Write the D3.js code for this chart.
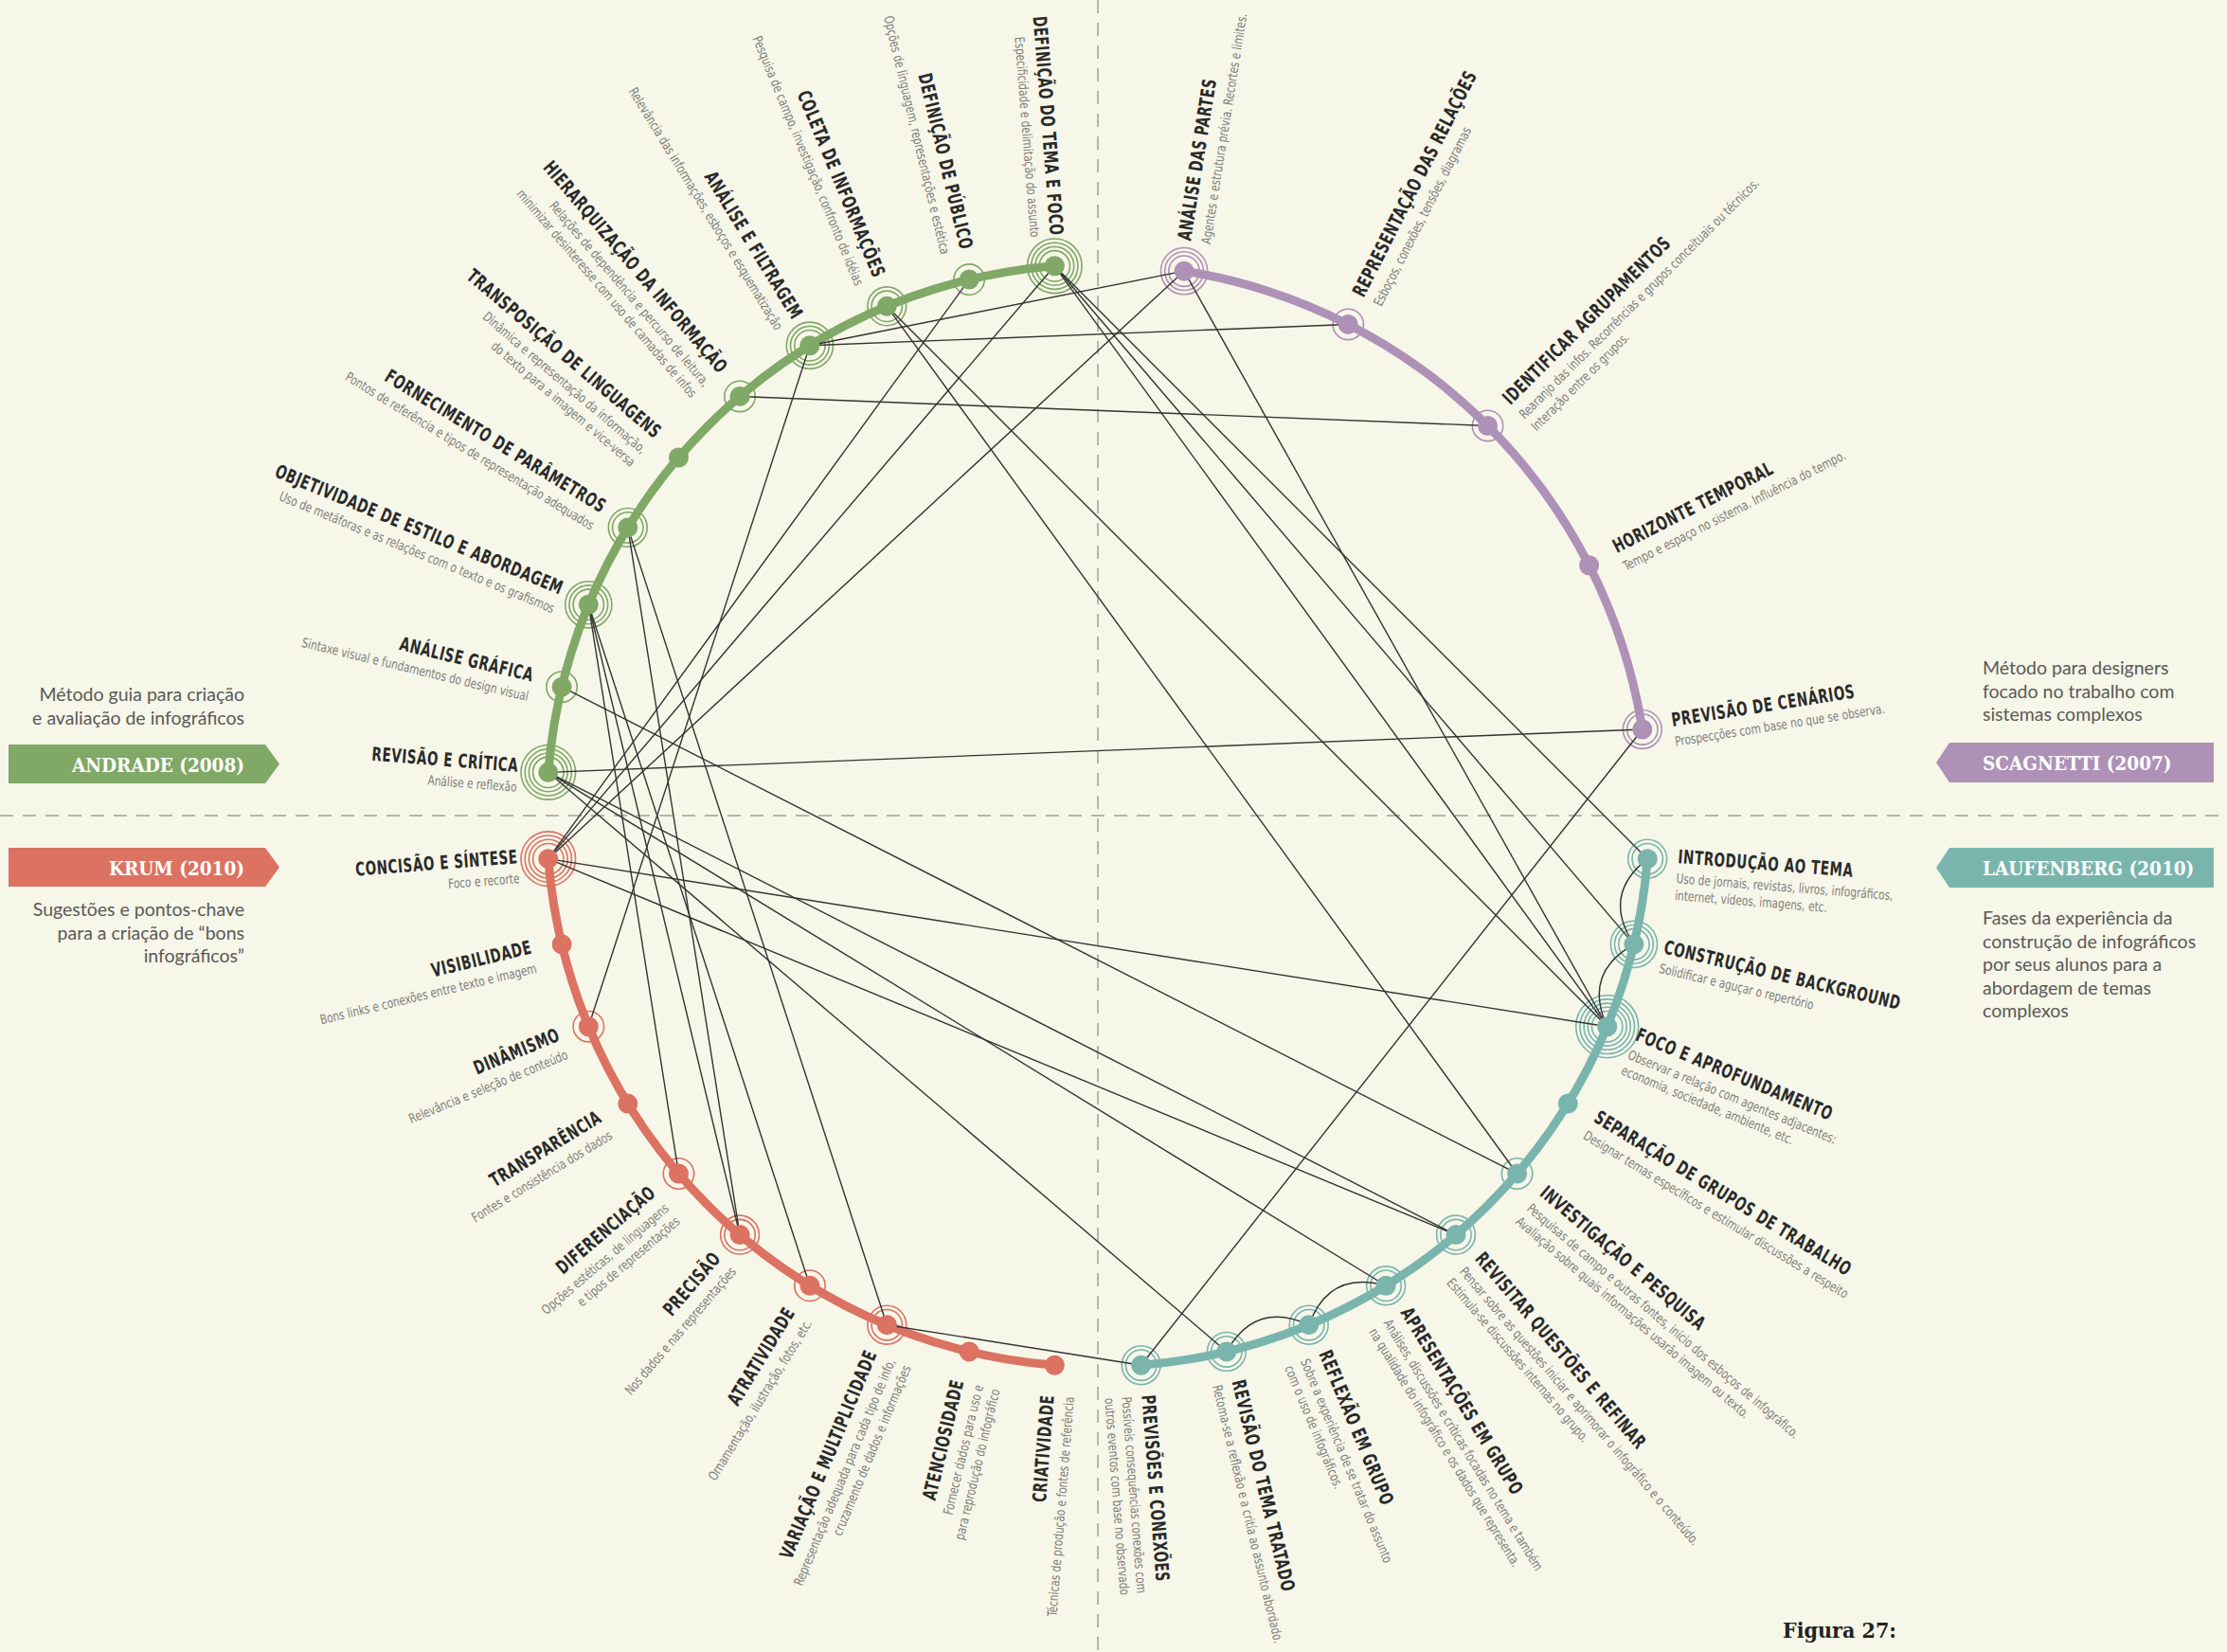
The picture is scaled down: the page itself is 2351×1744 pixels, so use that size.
<!DOCTYPE html>
<html>
<head>
<meta charset="utf-8">
<script src="https://cdn.jsdelivr.net/npm/d3@7"></script>
<style>
  body { margin: 0; background: #f6f6e9; }
  svg { display: block; }
</style>
</head>
<body>
<svg id="chart" width="2351" height="1744"></svg>
<script>
// ---- data ----
var andradeSteps = ["DEFINIÇÃO DO TEMA E FOCO", "DEFINIÇÃO DE PÚBLICO", "COLETA DE INFORMAÇÕES", "ANÁLISE E FILTRAGEM",
  "HIERARQUIZAÇÃO DA INFORMAÇÃO", "TRANSPOSIÇÃO DE LINGUAGENS", "FORNECIMENTO DE PARÂMETROS",
  "OBJETIVIDADE DE ESTILO E ABORDAGEM", "ANÁLISE GRÁFICA", "REVISÃO E CRÍTICA"];
var andradeNotes = [
  ["Especificidade e delimitação do assunto"],
  ["Opções de linguagem, representações e estética"],
  ["Pesquisa de campo, investigação, confronto de idéias"],
  ["Relevância das informações, esboços e esquematização"],
  ["Relações de dependência e percurso de leitura,", "minimizar desinteresse com uso de camadas de infos"],
  ["Dinâmica e representação da informação,", "do texto para a imagem e vice-versa"],
  ["Pontos de referência e tipos de representação adequados"],
  ["Uso de metáforas e as relações com o texto e os grafismos"],
  ["Sintaxe visual e fundamentos do design visual"],
  ["Análise e reflexão"]];
var andradeRings = [4, 1, 2, 3, 1, 0, 2, 3, 1, 4];

var krumSteps = ["CONCISÃO E SÍNTESE", "VISIBILIDADE", "DINÂMISMO", "TRANSPARÊNCIA", "DIFERENCIAÇÃO",
  "PRECISÃO", "ATRATIVIDADE", "VARIAÇÃO E MULTIPLICIDADE", "ATENCIOSIDADE", "CRIATIVIDADE"];
var krumNotes = [
  ["Foco e recorte"],
  ["Bons links e conexões entre texto e imagem"],
  ["Relevância e seleção de conteúdo"],
  ["Fontes e consistência dos dados"],
  ["Opções estéticas, de linguagens", "e tipos de representações"],
  ["Nos dados e nas representações"],
  ["Ornamentação, ilustração, fotos, etc."],
  ["Representação adequada para cada tipo de info,", "cruzamento de dados e informações"],
  ["Fornecer dados para uso e", "para reprodução do infográfico"],
  ["Técnicas de produção e fontes de referência"]];
var krumRings = [4, 0, 1, 0, 1, 2, 1, 2, 0, 0];

var scagnettiSteps = ["ANÁLISE DAS PARTES", "REPRESENTAÇÃO DAS RELAÇÕES", "IDENTIFICAR AGRUPAMENTOS",
  "HORIZONTE TEMPORAL", "PREVISÃO DE CENÁRIOS"];
var scagnettiNotes = [
  ["Agentes e estrutura prévia. Recortes e limites."],
  ["Esboços, conexões, tensões, diagramas"],
  ["Rearanjo das infos. Recorrências e grupos conceituais ou técnicos.", "Interação entre os grupos."],
  ["Tempo e espaço no sistema. Influência do tempo."],
  ["Prospecções com base no que se observa."]];
var scagnettiRings = [3, 1, 1, 0, 2];

var laufenbergSteps = ["INTRODUÇÃO AO TEMA", "CONSTRUÇÃO DE BACKGROUND", "FOCO E APROFUNDAMENTO",
  "SEPARAÇÃO DE GRUPOS DE TRABALHO", "INVESTIGAÇÃO E PESQUISA", "REVISITAR QUESTÕES E REFINAR",
  "APRESENTAÇÕES EM GRUPO", "REFLEXÃO EM GRUPO", "REVISÃO DO TEMA TRATADO", "PREVISÕES E CONEXÕES"];
var laufenbergNotes = [
  ["Uso de jornais, revistas, livros, infográficos,", "internet, vídeos, imagens, etc."],
  ["Solidificar e aguçar o repertório"],
  ["Observar a relação com agentes adjacentes:", "economia, sociedade, ambiente, etc."],
  ["Designar temas específicos e estimular discussões a respeito"],
  ["Pesquisas de campo e outras fontes, início dos esboços de infográfico.", "Avaliação sobre quais informações usarão imagem ou texto."],
  ["Pensar sobre as questões iniciar e aprimorar o infográfico e o conteúdo.", "Estímula-se discussões internas no grupo."],
  ["Análises, discussões e críticas focadas no tema e também", "na qualidade do infográfico e os dados que representa."],
  ["Sobre a experiência de se tratar do assunto", "com o uso de infográficos."],
  ["Retoma-se a reflexão e a critía ao assunto abordado."],
  ["Possíveis consequências conexões com", "outros eventos com base no observado"]];
var laufenbergRings = [2, 3, 5, 0, 1, 2, 2, 2, 2, 2];

// A = Andrade, K = Krum, S = Scagnetti, L = Laufenberg
var links = [
  ["A1", "K1"], ["A2", "K1"], ["S1", "K1"],
  ["A1", "L1"], ["A1", "L2"], ["A1", "L3"], ["S1", "L3"],
  ["A3", "L3"], ["A3", "L5"], ["A9", "L5"],
  ["A4", "S1"], ["A4", "S2"], ["A4", "K3"], ["A5", "S3"],
  ["A10", "S5"], ["S5", "L10"], ["K8", "L10"],
  ["K1", "L3"], ["K1", "L6"], ["A10", "L6"], ["A10", "L7"], ["A10", "L9"],
  ["A7", "K8"], ["A7", "K6"], ["A8", "K5"], ["A8", "K6"], ["A8", "K7"]];
var curves = [["L1", "L2"], ["L2", "L3"], ["L7", "L8"], ["L8", "L9"]];

var methodNames = ["ANDRADE (2008)", "KRUM (2010)", "SCAGNETTI (2007)", "LAUFENBERG (2010)"];
var methodNotes = [
  ["Método guia para criação", "e avaliação de infográficos"],
  ["Sugestões e pontos-chave", "para a criação de “bons", "infográficos”"],
  ["Método para designers", "focado no trabalho com", "sistemas complexos"],
  ["Fases da experiência da", "construção de infográficos", "por seus alunos para a", "abordagem de temas", "complexos"]];

// ---- layout ----
var W = 2351, H = 1744, cx = 1159, cy = 861, R = 582;
var titleFont = "'Liberation Sans Narrow', 'DejaVu Sans Condensed', sans-serif";
var slabFont = "'DejaVu Serif Condensed', 'DejaVu Serif', serif";

var methods = [
  { key: "A", steps: andradeSteps, notes: andradeNotes, rings: andradeRings, color: "#80a866",
    angle: d3.scaleLinear().domain([0, 9]).range([-4.5, -85.5]), left: true },
  { key: "K", steps: krumSteps, notes: krumNotes, rings: krumRings, color: "#dc7262",
    angle: d3.scaleLinear().domain([0, 9]).range([-94.5, -175.5]), left: true },
  { key: "S", steps: scagnettiSteps, notes: scagnettiNotes, rings: scagnettiRings, color: "#ae91b7",
    angle: d3.scaleLinear().domain([0, 4]).range([9, 81]), left: false },
  { key: "L", steps: laufenbergSteps, notes: laufenbergNotes, rings: laufenbergRings, color: "#79b5ad",
    angle: d3.scaleLinear().domain([0, 9]).range([94.5, 175.5]), left: false }
];

var rad = d3.scaleLinear().domain([0, 360]).range([0, 2 * Math.PI]);

var nodes = [];
var byId = {};
methods.forEach(function(m) {
  m.steps.forEach(function(s, i) {
    var deg = m.angle(i);
    var p = d3.pointRadial(rad(deg), R);
    var n = { id: m.key + (i + 1), title: s, notes: m.notes[i], rings: m.rings[i],
      color: m.color, deg: deg, x: p[0], y: p[1], left: m.left };
    nodes.push(n);
    byId[n.id] = n;
  });
});

var svg = d3.select("#chart");
svg.append("rect").attr("width", W).attr("height", H).attr("fill", "#f6f6e9");

// dashed guides
svg.append("line").attr("x1", cx).attr("x2", cx).attr("y1", 0).attr("y2", H)
  .attr("stroke", "#b5b5ad").attr("stroke-width", 2).attr("stroke-dasharray", "14,10");
svg.append("line").attr("x1", 0).attr("x2", W).attr("y1", cy).attr("y2", cy)
  .attr("stroke", "#b5b5ad").attr("stroke-width", 2).attr("stroke-dasharray", "14,10");

var g = svg.append("g").attr("transform", "translate(" + cx + "," + cy + ")");

// coloured arcs
var arc = d3.arc().innerRadius(R - 4.5).outerRadius(R + 4.5);
methods.forEach(function(m) {
  var n = m.steps.length - 1;
  g.append("path")
    .attr("d", arc({ startAngle: rad(m.angle(0)), endAngle: rad(m.angle(n)) }))
    .attr("fill", m.color);
});

// rings
var ringGap = 4.2, dotR = 10.5;
nodes.forEach(function(n) {
  g.selectAll(null).data(d3.range(1, n.rings + 1)).enter().append("circle")
    .attr("cx", n.x).attr("cy", n.y)
    .attr("r", function(k) { return dotR + 1.5 + ringGap * k; })
    .attr("fill", "none").attr("stroke", n.color).attr("stroke-width", 1.6);
});

// straight links
var line = d3.line();
g.selectAll(".link").data(links).enter().append("path")
  .attr("class", "link")
  .attr("d", function(d) { var a = byId[d[0]], b = byId[d[1]]; return line([[a.x, a.y], [b.x, b.y]]); })
  .attr("fill", "none").attr("stroke", "#333").attr("stroke-width", 1.4);

// curved links between neighbouring steps
g.selectAll(".curve").data(curves).enter().append("path")
  .attr("class", "curve")
  .attr("d", function(d) {
    var a = byId[d[0]], b = byId[d[1]];
    var c = d3.pointRadial(rad((a.deg + b.deg) / 2), R - 44);
    var p = d3.path();
    p.moveTo(a.x, a.y);
    p.quadraticCurveTo(c[0], c[1], b.x, b.y);
    return p.toString();
  })
  .attr("fill", "none").attr("stroke", "#333").attr("stroke-width", 1.4);

// dots
g.selectAll(".dot").data(nodes).enter().append("circle")
  .attr("class", "dot")
  .attr("cx", function(d) { return d.x; }).attr("cy", function(d) { return d.y; })
  .attr("r", dotR).attr("fill", function(d) { return d.color; });

// radial labels
var lab = g.selectAll(".lab").data(nodes).enter().append("g")
  .attr("class", "lab")
  .attr("transform", function(d) {
    return "rotate(" + (d.deg - 90) + ") translate(" + (R + 32) + ",0)" + (d.left ? " rotate(180)" : "");
  });

// condensed look: squeeze the fallback font along the reading direction
lab.append("text")
  .attr("y", 2)
  .attr("transform", "scale(0.75,1)")
  .attr("text-anchor", function(d) { return d.left ? "end" : "start"; })
  .style("font-family", titleFont).style("font-weight", "bold")
  .style("font-size", "20px").style("letter-spacing", "0.8px")
  .attr("fill", "#2a2a2a")
  .text(function(d) { return d.title; });

lab.each(function(d) {
  d3.select(this).selectAll(".note").data(d.notes).enter().append("text")
    .attr("class", "note")
    .attr("y", function(t, i) { return 23 + i * 18; })
    .attr("transform", "scale(0.84,1)")
    .attr("text-anchor", d.left ? "end" : "start")
    .style("font-family", titleFont).style("font-size", "14px")
    .attr("fill", "#80807a")
    .text(function(t) { return t; });
});

// side pennants
var penL = [[9, 0], [280, 0], [295, 20.5], [280, 41], [9, 41]];
var penR = [[2337, 0], [2058, 0], [2044, 21], [2058, 42], [2337, 42]];
var pennants = [
  { name: methodNames[0], color: methods[0].color, y: 786, pts: penL, tx: 258, anchor: "end" },
  { name: methodNames[1], color: methods[1].color, y: 895, pts: penL, tx: 258, anchor: "end" },
  { name: methodNames[2], color: methods[2].color, y: 784, pts: penR, tx: 2093, anchor: "start" },
  { name: methodNames[3], color: methods[3].color, y: 895, pts: penR, tx: 2093, anchor: "start" }
];
pennants.forEach(function(p) {
  var sg = svg.append("g").attr("transform", "translate(0," + p.y + ")");
  sg.append("polygon").attr("points", p.pts.map(function(q) { return q.join(","); }).join(" "))
    .attr("fill", p.color);
  sg.append("text").attr("x", p.tx).attr("y", 29).attr("text-anchor", p.anchor)
    .style("font-family", slabFont).style("font-weight", "bold").style("font-size", "20.5px")
    .attr("fill", "#fff").text(p.name);
});

var notePos = [
  { x: 258, y: 740, anchor: "end" },
  { x: 258, y: 967, anchor: "end" },
  { x: 2093, y: 712, anchor: "start" },
  { x: 2093, y: 976, anchor: "start" }
];
methodNotes.forEach(function(lines, i) {
  svg.append("g").selectAll("text").data(lines).enter().append("text")
    .attr("x", notePos[i].x)
    .attr("y", function(t, j) { return notePos[i].y + j * 24.5; })
    .attr("text-anchor", notePos[i].anchor)
    .style("font-family", "Lato, 'Noto Sans', sans-serif").style("font-size", "19.5px")
    .attr("fill", "#5a5a56")
    .text(function(t) { return t; });
});

svg.append("text").attr("x", 2002).attr("y", 1729).attr("text-anchor", "end")
  .style("font-family", slabFont).style("font-weight", "bold").style("font-size", "23px")
  .attr("fill", "#222").text("Figura 27:");
</script>
</body>
</html>
